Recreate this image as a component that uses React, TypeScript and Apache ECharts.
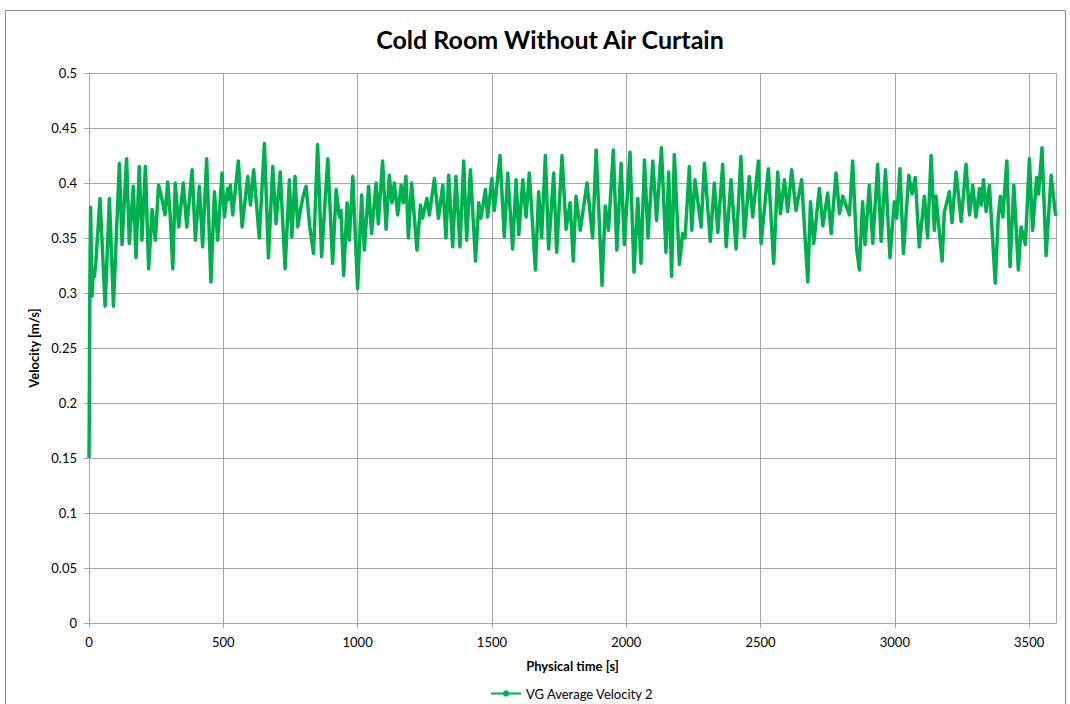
import React, { useEffect, useRef } from "react";
import * as echarts from "echarts";

const chartTitle = "Cold Room Without Air Curtain";
const seriesName = "VG Average Velocity 2";
const xAxisName = "Physical time [s]";
const yAxisName = "Velocity [m/s]";

const timeS = [
  0, 1, 2, 3, 4, 6, 11, 16, 20, 26, 41, 60, 76, 91, 113, 123, 140, 150, 165, 175,
  187, 197, 210, 222, 235, 247, 259, 272, 283, 293, 302, 312, 321, 334, 351, 364, 384, 396, 411, 423,
  438, 454, 467, 479, 495, 504, 516, 521, 526, 535, 556, 570, 591, 601, 613, 634, 653, 668, 684, 696,
  712, 730, 746, 755, 767, 777, 789, 799, 808, 822, 836, 851, 866, 889, 907, 920, 932, 938, 948, 961,
  969, 982, 1000, 1015, 1025, 1041, 1052, 1069, 1077, 1093, 1106, 1118, 1128, 1137, 1149, 1162, 1170, 1180, 1189, 1201,
  1221, 1234, 1242, 1258, 1267, 1286, 1301, 1317, 1329, 1339, 1354, 1366, 1381, 1395, 1406, 1420, 1439, 1451, 1459, 1476,
  1484, 1500, 1509, 1530, 1546, 1559, 1577, 1590, 1600, 1615, 1627, 1639, 1652, 1662, 1674, 1685, 1699, 1711, 1730, 1741,
  1761, 1776, 1791, 1803, 1813, 1829, 1854, 1875, 1888, 1910, 1922, 1934, 1952, 1965, 1981, 1993, 2014, 2029, 2043, 2055,
  2068, 2081, 2099, 2113, 2131, 2148, 2158, 2169, 2179, 2198, 2210, 2219, 2235, 2244, 2256, 2279, 2291, 2313, 2328, 2341,
  2359, 2372, 2390, 2409, 2427, 2440, 2458, 2471, 2492, 2502, 2529, 2549, 2564, 2574, 2589, 2601, 2616, 2632, 2653, 2676,
  2686, 2698, 2719, 2732, 2750, 2763, 2781, 2794, 2806, 2831, 2843, 2858, 2868, 2880, 2889, 2905, 2918, 2936, 2949, 2965,
  2982, 2998, 3007, 3019, 3032, 3052, 3064, 3076, 3091, 3110, 3122, 3135, 3147, 3153, 3176, 3184, 3203, 3213, 3228, 3247,
  3265, 3278, 3290, 3302, 3315, 3322, 3330, 3340, 3352, 3374, 3385, 3393, 3402, 3417, 3429, 3443, 3460, 3470, 3486, 3501,
  3513, 3528, 3535, 3548, 3563, 3582, 3596, 3600,
];

const velocity = [
  0.15, 0.185, 0.245, 0.29, 0.33, 0.378, 0.297, 0.32, 0.315, 0.33, 0.386, 0.288, 0.386, 0.288, 0.418, 0.344, 0.422, 0.345, 0.397, 0.332,
  0.415, 0.348, 0.415, 0.322, 0.376, 0.348, 0.398, 0.385, 0.371, 0.401, 0.372, 0.322, 0.4, 0.36, 0.4, 0.36, 0.412, 0.348, 0.397, 0.342,
  0.422, 0.31, 0.392, 0.348, 0.409, 0.369, 0.395, 0.385, 0.398, 0.371, 0.42, 0.36, 0.406, 0.38, 0.412, 0.35, 0.436, 0.332, 0.415, 0.363,
  0.41, 0.322, 0.403, 0.351, 0.406, 0.36, 0.378, 0.39, 0.397, 0.36, 0.336, 0.435, 0.333, 0.422, 0.327, 0.394, 0.369, 0.375, 0.316, 0.382,
  0.348, 0.406, 0.304, 0.389, 0.339, 0.397, 0.354, 0.4, 0.363, 0.42, 0.358, 0.407, 0.382, 0.4, 0.371, 0.398, 0.382, 0.406, 0.35, 0.4,
  0.339, 0.38, 0.368, 0.386, 0.371, 0.404, 0.368, 0.398, 0.35, 0.407, 0.342, 0.406, 0.342, 0.42, 0.348, 0.412, 0.329, 0.382, 0.368, 0.394,
  0.369, 0.404, 0.375, 0.425, 0.351, 0.409, 0.34, 0.403, 0.353, 0.403, 0.369, 0.409, 0.36, 0.321, 0.392, 0.35, 0.425, 0.34, 0.409, 0.337,
  0.425, 0.358, 0.382, 0.329, 0.388, 0.357, 0.4, 0.35, 0.43, 0.307, 0.379, 0.357, 0.43, 0.339, 0.418, 0.344, 0.428, 0.319, 0.386, 0.327,
  0.421, 0.35, 0.42, 0.366, 0.432, 0.337, 0.41, 0.315, 0.426, 0.326, 0.354, 0.35, 0.415, 0.357, 0.403, 0.36, 0.418, 0.347, 0.4, 0.355,
  0.417, 0.342, 0.403, 0.34, 0.424, 0.351, 0.406, 0.369, 0.42, 0.345, 0.413, 0.327, 0.41, 0.372, 0.403, 0.374, 0.412, 0.375, 0.403, 0.31,
  0.383, 0.345, 0.395, 0.361, 0.391, 0.354, 0.409, 0.372, 0.388, 0.371, 0.42, 0.34, 0.321, 0.383, 0.344, 0.398, 0.345, 0.417, 0.347, 0.412,
  0.332, 0.383, 0.368, 0.413, 0.336, 0.407, 0.39, 0.405, 0.342, 0.388, 0.35, 0.425, 0.357, 0.388, 0.329, 0.373, 0.392, 0.364, 0.41, 0.365,
  0.417, 0.371, 0.398, 0.369, 0.395, 0.38, 0.403, 0.374, 0.398, 0.309, 0.369, 0.388, 0.369, 0.42, 0.324, 0.398, 0.321, 0.36, 0.344, 0.422,
  0.357, 0.405, 0.39, 0.432, 0.334, 0.407, 0.375, 0.37,
];

const FONT = "Lato, 'Open Sans', sans-serif";

export default function App() {
  const ref = useRef<HTMLDivElement>(null);

  useEffect(() => {
    if (!ref.current) return;
    const chart = echarts.init(ref.current, undefined, { renderer: "svg" });
    const data = timeS.map((t, i) => [t, velocity[i]]);
    chart.setOption({
      animation: false,
      backgroundColor: "#ffffff",
      title: {
        text: chartTitle,
        left: 545,
        top: 21,
        textAlign: "center",
        textStyle: { fontFamily: FONT, fontWeight: "bold", fontSize: 25, color: "#000" },
      },
      graphic: [
        {
          type: "rect",
          shape: { x: 5.5, y: 10.5, width: 1060, height: 700 },
          style: { fill: "none", stroke: "#8c8c8c", lineWidth: 1 },
          silent: true,
        },
      ],
      legend: {
        left: 490,
        top: 687,
        itemWidth: 30,
        itemHeight: 8,
        itemGap: 4,
        textStyle: { fontFamily: FONT, fontSize: 13, color: "#000", padding: [0, 0, 0, 0] },
        padding: 0,
        data: [seriesName],
      },
      grid: { left: 89, right: 14, top: 73, bottom: 81, containLabel: false },
      xAxis: {
        type: "value",
        min: 0,
        max: 3600,
        interval: 500,
        name: xAxisName,
        nameLocation: "middle",
        nameGap: 36,
        nameTextStyle: { fontFamily: FONT, fontWeight: "bold", fontSize: 13, color: "#000" },
        axisLine: { show: true, lineStyle: { color: "#a6a6a6" } },
        axisTick: { show: true, inside: false, length: 5, lineStyle: { color: "#a6a6a6" } },
        axisLabel: {
          margin: 12,
          fontFamily: FONT,
          fontSize: 13,
          color: "#000",
          showMaxLabel: false,
          formatter: (v: number) => (v > 3500 ? "" : String(v)),
        },
        splitLine: { show: true, lineStyle: { color: "#a6a6a6", width: 1 } },
      },
      yAxis: {
        type: "value",
        min: 0,
        max: 0.5,
        interval: 0.05,
        name: yAxisName,
        nameLocation: "middle",
        nameGap: 45,
        nameTextStyle: { fontFamily: FONT, fontWeight: "bold", fontSize: 13, color: "#000" },
        axisLine: { show: true, lineStyle: { color: "#a6a6a6" } },
        axisTick: { show: true, inside: false, length: 5, lineStyle: { color: "#a6a6a6" } },
        axisLabel: {
          margin: 12,
          fontFamily: FONT,
          fontSize: 13,
          color: "#000",
          formatter: (v: number) => String(+v.toFixed(2)),
        },
        splitLine: { show: true, lineStyle: { color: "#a6a6a6", width: 1 } },
      },
      series: [
        {
          name: seriesName,
          type: "line",
          data,
          showSymbol: false,
          symbol: "circle",
          symbolSize: 4,
          lineStyle: { color: "#00b050", width: 3.5, join: "round" },
          itemStyle: { color: "#00b050" },
        },
      ],
    });
    return () => chart.dispose();
  }, []);

  return (
    <div
      ref={ref}
      style={{ position: "fixed", left: 0, top: 0, width: 1070, height: 704, background: "#fff" }}
    />
  );
}
